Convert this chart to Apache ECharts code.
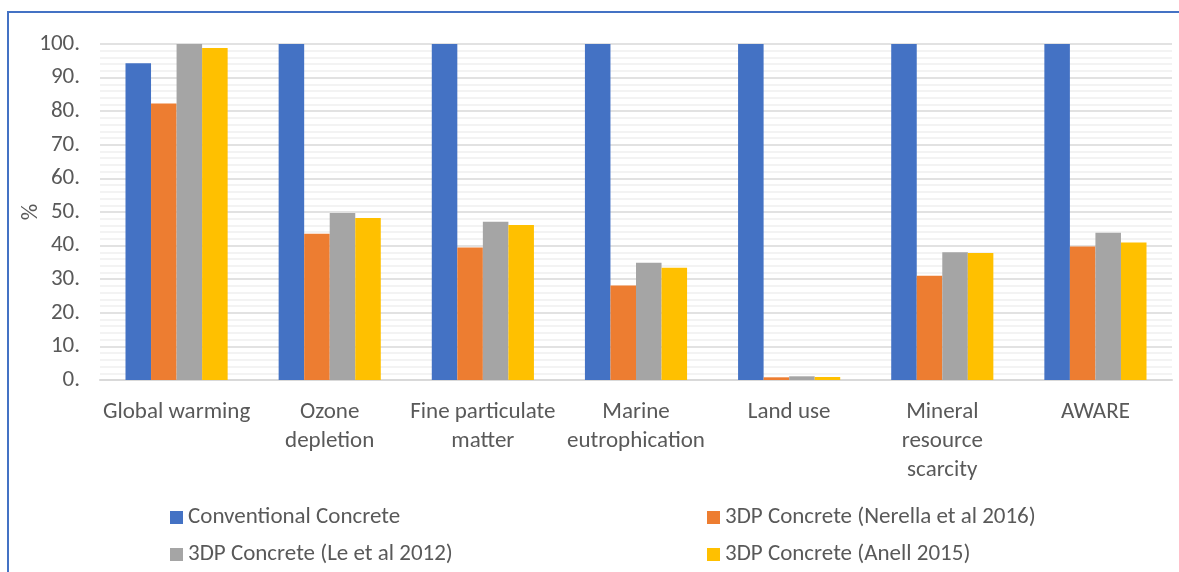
<!DOCTYPE html>
<html>
<head>
<meta charset="utf-8">
<script src="https://cdn.jsdelivr.net/npm/echarts@6/dist/echarts.min.js"></script>
<style>html,body{margin:0;padding:0;background:#fff;}#c{width:1179px;height:572px;}</style>
</head>
<body>
<div id="c"></div>
<script>
const categories = ['Global warming', 'Ozone\ndepletion', 'Fine particulate\nmatter', 'Marine\neutrophication', 'Land use', 'Mineral\nresource\nscarcity', 'AWARE'];
const seriesNames = ['Conventional Concrete', '3DP Concrete (Nerella et al 2016)', '3DP Concrete (Le et al 2012)', '3DP Concrete (Anell 2015)'];
const conventional = [94.3, 100, 100, 100, 100, 100, 100];
const nerella = [82.3, 43.5, 39.4, 28.1, 0.8, 31.0, 39.7];
const le = [100, 49.7, 47.1, 34.9, 1.1, 38.0, 43.8];
const anell = [98.8, 48.2, 46.1, 33.4, 0.9, 37.8, 40.9];
const yAxisName = '%';
const colors = ['#4472C4', '#ED7D31', '#A5A5A5', '#FFC000'];
const FONT = 'Carlito, Calibri, Lato, "Liberation Sans Narrow", sans-serif';
const TXT = '#595959';
const FS = 23;

const legendPos = [[165, 501], [702, 501], [165, 538], [702, 538]];

const chart = echarts.init(document.getElementById('c'));
const values = [conventional, nerella, le, anell];
chart.setOption({
  animation: false,
  color: colors,
  textStyle: {fontFamily: FONT},
  graphic: [
    {type: 'rect', shape: {x: 8, y: 12, width: 1200, height: 600}, style: {fill: 'none', stroke: '#4472C4', lineWidth: 2}, silent: true},
    {type: 'text', x: 31, y: 212, rotation: Math.PI / 2, style: {text: yAxisName, fill: TXT, font: FS + 'px ' + FONT, align: 'center', verticalAlign: 'middle'}, silent: true}
  ],
  grid: {left: 100, right: 7, top: 44, bottom: 192, outerBoundsMode: 'none', containLabel: false},
  legend: seriesNames.map((n, i) => ({
    left: legendPos[i][0], top: legendPos[i][1], itemWidth: 13, itemHeight: 13, icon: 'rect',
    data: [n], selectedMode: false,
    textStyle: {fontFamily: FONT, fontSize: FS, color: TXT}
  })),
  xAxis: {
    type: 'category', data: categories,
    axisLine: {show: true, lineStyle: {color: '#d9d9d9', width: 2}},
    axisTick: {show: false},
    axisLabel: {interval: 0, color: TXT, fontFamily: FONT, fontSize: FS, lineHeight: 29, margin: 18}
  },
  yAxis: {
    type: 'value', min: 0, max: 100, interval: 10,
    axisLine: {show: false}, axisTick: {show: false},
    axisLabel: {color: TXT, fontFamily: FONT, fontSize: FS, margin: 20, formatter: v => v + '.'},
    splitLine: {lineStyle: {color: '#d9d9d9', width: 1.5}},
    minorTick: {show: false, splitNumber: 5},
    minorSplitLine: {show: true, lineStyle: {color: '#efefef', width: 1.5}}
  },
  series: values.map((d, i) => ({
    name: seriesNames[i], type: 'bar', data: d,
    barGap: '0%', barCategoryGap: '33.3%'
  }))
});
</script>
</body>
</html>
